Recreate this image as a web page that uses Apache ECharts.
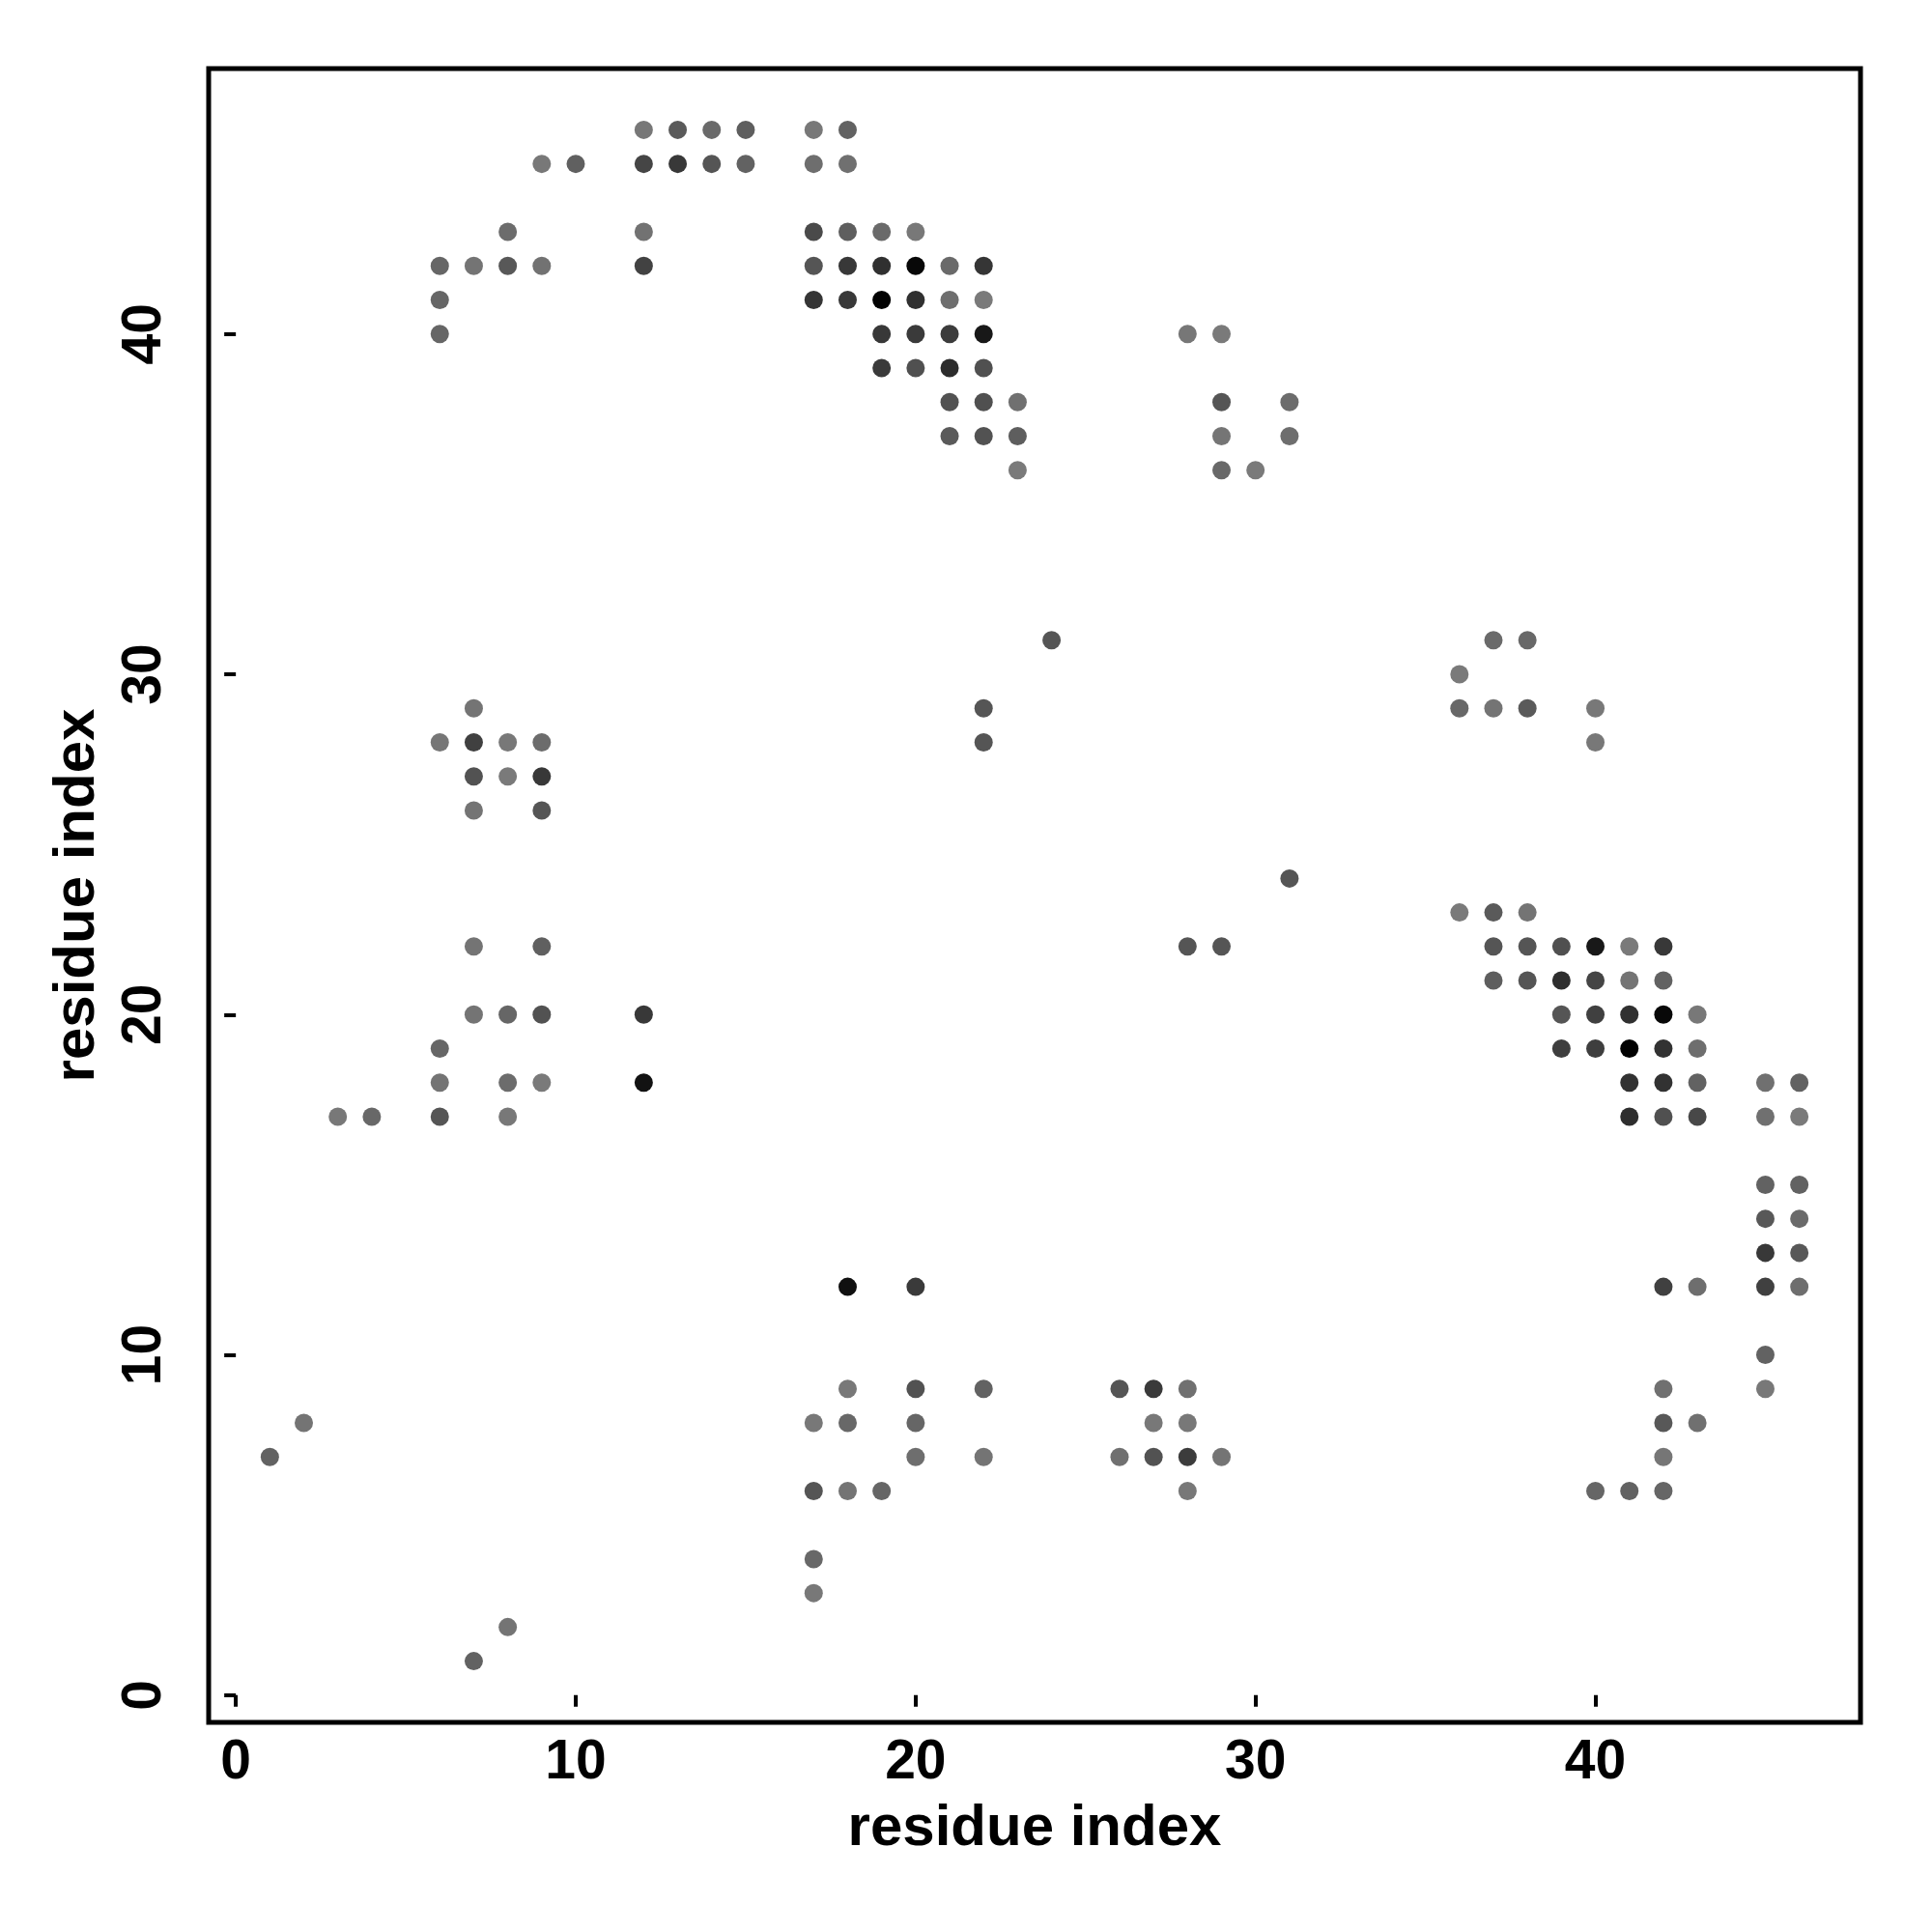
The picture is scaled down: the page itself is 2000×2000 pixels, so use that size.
<!DOCTYPE html>
<html>
<head>
<meta charset="utf-8">
<script src="https://cdn.jsdelivr.net/npm/echarts@6/dist/echarts.min.js"></script>
<style>
html,body{margin:0;padding:0;background:#fff;}
#chart{width:2000px;height:2000px;}
</style>
</head>
<body>
<div id="chart"></div>
<script>
// residue i (x), residue j (y), grey level of the dot (0 = black, 255 = white)
const resX = [
  12,13,14,15,17,18,
  9,10,12,13,14,15,17,18,
  8,12,17,18,19,20,
  6,7,8,9,12,17,18,19,20,21,22,
  6,17,18,19,20,21,22,
  6,19,20,21,22,28,29,
  19,20,21,22,
  21,22,23,29,31,
  21,22,23,29,31,
  23,29,30,
  24,37,38,
  36,
  7,22,36,37,38,40,
  6,7,8,9,22,40,
  7,8,9,
  7,9,
  31,
  36,37,38,
  7,9,28,29,37,38,39,40,41,42,
  37,38,39,40,41,42,
  7,8,9,12,39,40,41,42,43,
  6,39,40,41,42,43,
  6,8,9,12,41,42,43,45,46,
  3,4,6,8,41,42,43,45,46,
  45,46,
  45,46,
  45,46,
  18,20,42,43,45,46,
  45,
  18,20,22,26,27,28,42,45,
  2,17,18,20,27,28,42,43,
  1,20,22,26,27,28,29,42,
  17,18,19,28,40,41,42,
  17,
  17,
  8,
  7
];
const resY = [
  46,46,46,46,46,46,
  45,45,45,45,45,45,45,45,
  43,43,43,43,43,43,
  42,42,42,42,42,42,42,42,42,42,42,
  41,41,41,41,41,41,41,
  40,40,40,40,40,40,40,
  39,39,39,39,
  38,38,38,38,38,
  37,37,37,37,37,
  36,36,36,
  31,31,31,
  30,
  29,29,29,29,29,29,
  28,28,28,28,28,28,
  27,27,27,
  26,26,
  24,
  23,23,23,
  22,22,22,22,22,22,22,22,22,22,
  21,21,21,21,21,21,
  20,20,20,20,20,20,20,20,20,
  19,19,19,19,19,19,
  18,18,18,18,18,18,18,18,18,
  17,17,17,17,17,17,17,17,17,
  15,15,
  14,14,
  13,13,
  12,12,12,12,12,12,
  10,
  9,9,9,9,9,9,9,9,
  8,8,8,8,8,8,8,8,
  7,7,7,7,7,7,7,7,
  6,6,6,6,6,6,6,
  4,
  3,
  2,
  1
];
const greyLevel = [
  0x77,0x5a,0x6a,0x5e,0x78,0x62,
  0x78,0x60,0x45,0x38,0x55,0x62,0x6e,0x70,
  0x6c,0x72,0x4a,0x5e,0x6a,0x78,
  0x66,0x74,0x58,0x72,0x42,0x55,0x38,0x30,0x08,0x6a,0x35,
  0x66,0x35,0x38,0x02,0x30,0x6e,0x7a,
  0x66,0x38,0x3a,0x3c,0x18,0x77,0x7a,
  0x3a,0x50,0x2c,0x50,
  0x52,0x50,0x70,0x55,0x6c,
  0x5a,0x52,0x5e,0x75,0x6e,
  0x7a,0x68,0x7a,
  0x55,0x6a,0x68,
  0x7a,
  0x74,0x55,0x68,0x74,0x5a,0x78,
  0x76,0x40,0x78,0x6c,0x55,0x78,
  0x52,0x7a,0x38,
  0x74,0x55,
  0x55,
  0x7a,0x5a,0x74,
  0x74,0x60,0x55,0x55,0x55,0x55,0x50,0x18,0x7a,0x38,
  0x5e,0x55,0x2e,0x45,0x74,0x62,
  0x74,0x66,0x52,0x38,0x55,0x40,0x30,0x08,0x78,
  0x66,0x3e,0x3e,0x02,0x32,0x6e,
  0x74,0x6c,0x7a,0x12,0x32,0x32,0x62,0x70,0x62,
  0x78,0x68,0x55,0x78,0x2e,0x50,0x48,0x70,0x7a,
  0x62,0x62,
  0x58,0x6a,
  0x38,0x58,
  0x10,0x3a,0x40,0x6e,0x40,0x6e,
  0x62,
  0x78,0x52,0x62,0x55,0x3a,0x70,0x70,0x78,
  0x74,0x78,0x68,0x66,0x78,0x78,0x58,0x70,
  0x62,0x6e,0x74,0x70,0x52,0x3c,0x74,0x76,
  0x55,0x74,0x66,0x78,0x66,0x62,0x66,
  0x68,
  0x78,
  0x74,
  0x62
];
const tickValues = [0, 10, 20, 30, 40];
const axisTitleX = 'residue index';
const axisTitleY = 'residue index';

const points = resX.map((x, i) => [x, resY[i], greyLevel[i]]);

const fontFam = '"Liberation Sans", Arial, Helvetica, sans-serif';
const chart = echarts.init(document.getElementById('chart'), null, {renderer: 'canvas'});
chart.setOption({
  backgroundColor: '#ffffff',
  animation: false,
  grid: {
    left: 216, right: 74, top: 71, bottom: 217,
    show: true, borderColor: '#000', borderWidth: 5, backgroundColor: 'transparent'
  },
  xAxis: {
    type: 'value', min: -0.8, max: 47.8,
    name: axisTitleX, nameLocation: 'middle', nameGap: 80,
    nameTextStyle: {fontFamily: fontFam, fontWeight: 'bold', fontSize: 60, color: '#000'},
    axisLine: {show: false},
    splitLine: {show: false},
    axisTick: {show: true, inside: false, length: 12, customValues: tickValues,
      lineStyle: {color: '#000', width: 4}},
    axisLabel: {show: true, customValues: tickValues, margin: 14,
      fontFamily: fontFam, fontWeight: 'bold', fontSize: 57, color: '#000'}
  },
  yAxis: {
    type: 'value', min: -0.8, max: 47.8,
    name: axisTitleY, nameLocation: 'middle', nameGap: 106, nameRotate: 90,
    nameTextStyle: {fontFamily: fontFam, fontWeight: 'bold', fontSize: 60, color: '#000'},
    axisLine: {show: false},
    splitLine: {show: false},
    axisTick: {show: true, inside: false, length: 12, customValues: tickValues,
      lineStyle: {color: '#000', width: 4}},
    axisLabel: {show: true, customValues: tickValues, margin: 37, rotate: 90,
      fontFamily: fontFam, fontWeight: 'bold', fontSize: 57, color: '#000'}
  },
  series: [{
    type: 'scatter',
    data: points,
    symbol: 'circle',
    symbolSize: 19,
    itemStyle: {
      opacity: 1,
      color: function (p) {
        const g = p.data[2];
        return 'rgb(' + g + ',' + g + ',' + g + ')';
      }
    }
  }]
});
</script>
</body>
</html>
